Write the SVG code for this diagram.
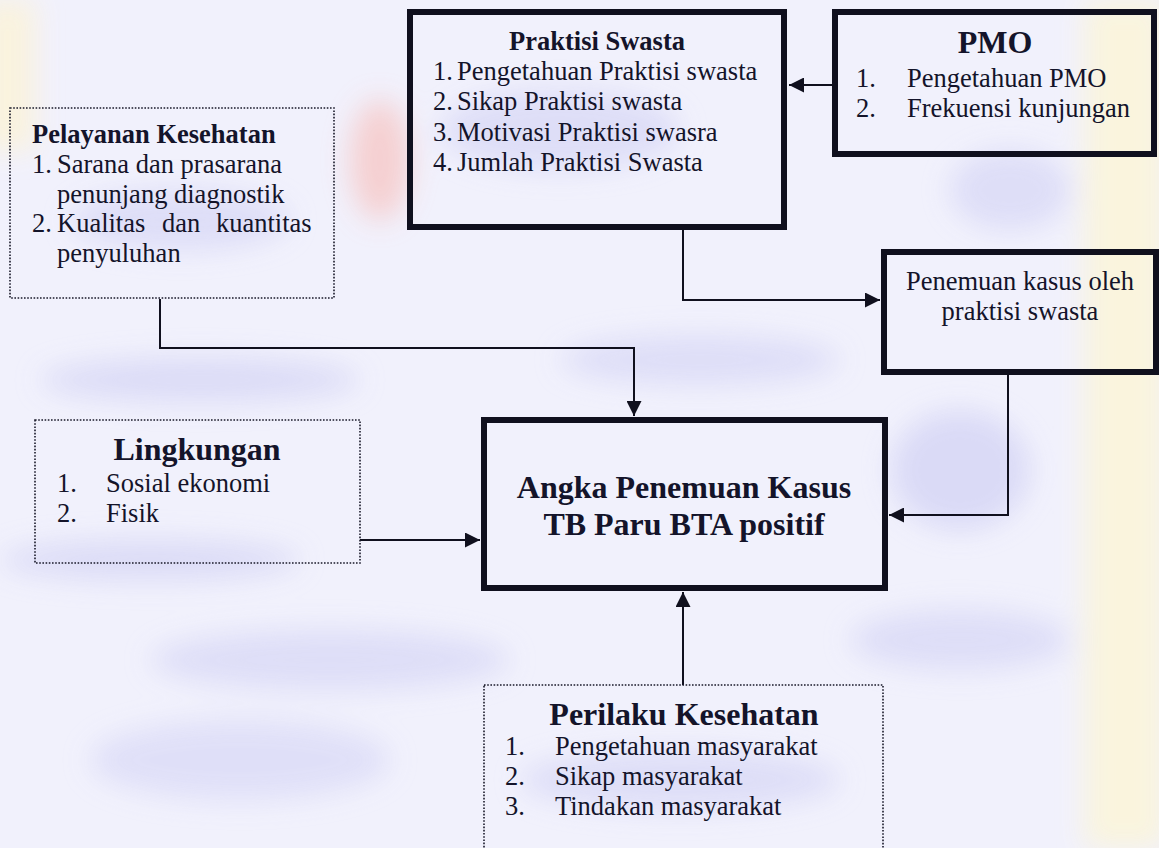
<svg xmlns="http://www.w3.org/2000/svg" width="1159" height="848" viewBox="0 0 1159 848">
<defs>
<style>
.t{font-family:"Liberation Serif","Times New Roman",serif;fill:#14142a;font-size:26.5px}
.b{font-weight:bold}
.big{font-size:32px;font-weight:bold}
.thick{fill:none;stroke:#10101e;stroke-width:6}
.dot{fill:none;stroke:#1a1a2a;stroke-width:1.6;stroke-dasharray:1.6 1.6}
.con{fill:none;stroke:#10101e;stroke-width:2}
</style>
<marker id="ah" markerUnits="userSpaceOnUse" markerWidth="16" markerHeight="15" refX="15" refY="7.5" orient="auto">
<path d="M0,0 L15,7.5 L0,15 Z" fill="#10101e"/>
</marker>
<filter id="blur" x="-50%" y="-50%" width="200%" height="200%"><feGaussianBlur stdDeviation="14"/></filter>
</defs>
<g id="background">
<rect x="0" y="0" width="1159" height="848" fill="#f1f1fc"/>
<g filter="url(#blur)" opacity="0.9">
<rect x="1085" y="0" width="80" height="848" fill="#fbf5da"/>
<rect x="-20" y="0" width="55" height="150" fill="#fbf3da"/>
<ellipse cx="380" cy="160" rx="30" ry="60" fill="#f6cccc"/>
<ellipse cx="200" cy="380" rx="160" ry="22" fill="#d9d9f6"/>
<ellipse cx="150" cy="560" rx="150" ry="20" fill="#d9d9f6"/>
<ellipse cx="330" cy="660" rx="180" ry="30" fill="#dcdcf7"/>
<ellipse cx="700" cy="360" rx="140" ry="25" fill="#dcdcf7"/>
<ellipse cx="960" cy="470" rx="70" ry="60" fill="#d8d8f6"/>
<ellipse cx="960" cy="640" rx="110" ry="30" fill="#dcdcf7"/>
<ellipse cx="560" cy="130" rx="120" ry="40" fill="#dcdcf7"/>
<ellipse cx="180" cy="220" rx="110" ry="30" fill="#dcdcf7"/>
<ellipse cx="680" cy="780" rx="160" ry="30" fill="#dcdcf7"/>
<ellipse cx="240" cy="760" rx="150" ry="40" fill="#dedef8"/>
<ellipse cx="1010" cy="190" rx="60" ry="40" fill="#dcdcf7"/>
</g>
</g>
<g id="connectors">
<path class="con" d="M833,85 H789" marker-end="url(#ah)"/>
<path class="con" d="M683,230 V300 H880" marker-end="url(#ah)"/>
<path class="con" d="M160,299 V348 H634 V416" marker-end="url(#ah)"/>
<path class="con" d="M1008,375 V515 H889" marker-end="url(#ah)"/>
<path class="con" d="M360,540 H480" marker-end="url(#ah)"/>
<path class="con" d="M683,685 V592" marker-end="url(#ah)"/>
</g>
<g id="praktisi-swasta">
<rect class="thick" x="410" y="12" width="374" height="215"/>
<text class="t b" x="597" y="50" text-anchor="middle">Praktisi Swasta</text>
<text class="t" x="433" y="80">1.</text><text class="t" x="457" y="80">Pengetahuan Praktisi swasta</text>
<text class="t" x="433" y="110">2.</text><text class="t" x="457" y="110">Sikap Praktisi swasta</text>
<text class="t" x="433" y="141">3.</text><text class="t" x="457" y="141">Motivasi Praktisi swasra</text>
<text class="t" x="433" y="171">4.</text><text class="t" x="457" y="171">Jumlah Praktisi Swasta</text>
</g>
<g id="pmo">
<rect class="thick" x="835" y="12" width="319" height="142"/>
<text class="t big" x="995" y="53" text-anchor="middle">PMO</text>
<text class="t" x="856" y="87">1.</text><text class="t" x="907" y="87">Pengetahuan PMO</text>
<text class="t" x="856" y="117">2.</text><text class="t" x="907" y="117">Frekuensi kunjungan</text>
</g>
<g id="pelayanan-kesehatan">
<rect class="dot" x="10" y="108" width="324" height="190"/>
<text class="t b" x="32" y="143">Pelayanan Kesehatan</text>
<text class="t" x="32" y="173">1.</text><text class="t" x="57" y="173">Sarana dan prasarana</text>
<text class="t" x="57" y="203">penunjang diagnostik</text>
<text class="t" x="32" y="232">2.</text><text class="t" x="57" y="232">Kualitas</text><text class="t" x="162" y="232">dan</text><text class="t" x="216" y="232">kuantitas</text>
<text class="t" x="57" y="262">penyuluhan</text>
</g>
<g id="penemuan-kasus">
<rect class="thick" x="884" y="252" width="272" height="120"/>
<text class="t" x="1020" y="290" text-anchor="middle">Penemuan kasus oleh</text>
<text class="t" x="1020" y="320" text-anchor="middle">praktisi swasta</text>
</g>
<g id="lingkungan">
<rect class="dot" x="35" y="420" width="325" height="143"/>
<text class="t big" x="197" y="460" text-anchor="middle">Lingkungan</text>
<text class="t" x="57" y="492">1.</text><text class="t" x="106" y="492">Sosial ekonomi</text>
<text class="t" x="57" y="522">2.</text><text class="t" x="106" y="522">Fisik</text>
</g>
<g id="angka-penemuan">
<rect class="thick" x="484" y="420" width="401" height="168"/>
<text class="t big" x="684" y="498" text-anchor="middle">Angka Penemuan Kasus</text>
<text class="t big" x="684" y="535" text-anchor="middle">TB Paru BTA positif</text>
</g>
<g id="perilaku-kesehatan">
<rect class="dot" x="484" y="685" width="399" height="175"/>
<text class="t big" x="684" y="725" text-anchor="middle">Perilaku Kesehatan</text>
<text class="t" x="505" y="755">1.</text><text class="t" x="555" y="755">Pengetahuan masyarakat</text>
<text class="t" x="505" y="785">2.</text><text class="t" x="555" y="785">Sikap masyarakat</text>
<text class="t" x="505" y="815">3.</text><text class="t" x="555" y="815">Tindakan masyarakat</text>
</g>
</svg>
